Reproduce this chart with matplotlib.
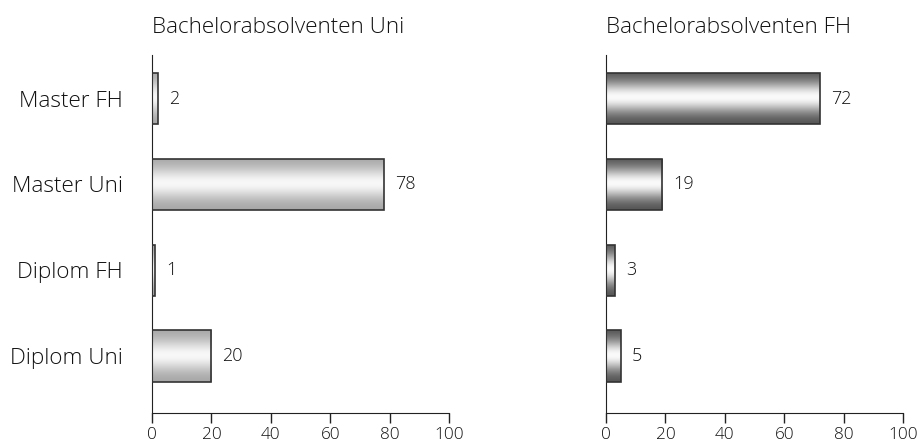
import matplotlib.pyplot as plt
import numpy as np

plt.rcParams["font.family"] = ["Open Sans", "DejaVu Sans"]
plt.rcParams["font.weight"] = "light"
plt.rcParams["axes.titleweight"] = "light"

categories = ["Diplom Uni", "Diplom FH", "Master Uni", "Master FH"]
uni_values = [20, 1, 78, 2]
fh_values = [5, 3, 19, 72]
titles = ["Bachelorabsolventen Uni", "Bachelorabsolventen FH"]
xticks = [0, 20, 40, 60, 80, 100]

ink = "#111111"


def gradient(edge, centre):
    # vertical shading: dark at the edges, light slightly below the middle
    t = np.linspace(0, 1, 256)
    w = np.exp(-((t - 0.52) / 0.3) ** 2)
    g = edge + (centre - edge) * w
    g = g[:, None]
    return np.dstack([g, g, g])


def shaded_barh(ax, values, edge, centre):
    bars = ax.barh(range(len(values)), values, height=0.6,
                   facecolor="none", edgecolor="#333333", linewidth=1.2, zorder=3)
    img = gradient(edge, centre)
    for b in bars:
        x0, y0 = b.get_x(), b.get_y()
        w, h = b.get_width(), b.get_height()
        im = ax.imshow(img, extent=(x0, x0 + w, y0 + h, y0), aspect="auto",
                       interpolation="bilinear", zorder=2)
        im.set_clip_path(b)
    for i, v in enumerate(values):
        ax.text(v + 3.7, i, str(v), va="center", ha="left", fontsize=13, color=ink)


fig = plt.figure(figsize=(9.19, 4.45), dpi=100)
ax1 = fig.add_axes([0.1654, 0.0719, 0.3232, 0.8045])
ax2 = fig.add_axes([0.6594, 0.0719, 0.3232, 0.8045])

shaded_barh(ax1, uni_values, 0.64, 0.97)
shaded_barh(ax2, fh_values, 0.30, 0.98)

for ax, title in zip((ax1, ax2), titles):
    ax.set_xlim(0, 100)
    ax.set_ylim(-0.665, 3.51)
    ax.set_xticks(xticks)
    ax.spines[["top", "right"]].set_visible(False)
    ax.spines[["left", "bottom"]].set_color("#222222")
    ax.tick_params(axis="x", length=7, width=1, color="#222222", labelcolor=ink,
                   labelsize=12.3, pad=3)
    ax.tick_params(axis="y", length=0, pad=21, labelsize=16.2, labelcolor=ink)
    ax.set_title(title, loc="left", fontsize=16.2, color=ink, pad=16)

ax1.set_yticks(range(len(categories)), categories)
ax2.set_yticks([])

fig.savefig("out.png", dpi=100)
